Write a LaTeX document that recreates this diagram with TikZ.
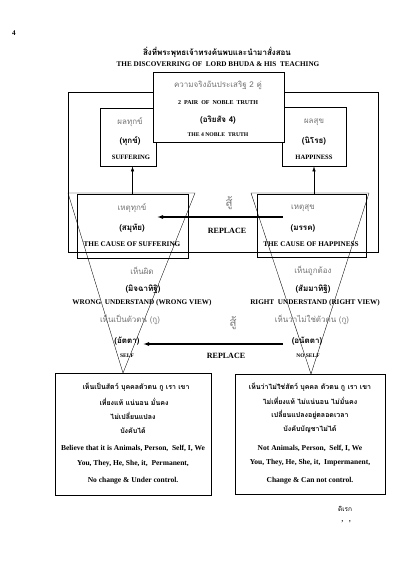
\documentclass[tikz,border=0pt]{standalone}
\usepackage{fontspec}
\setmainfont{Liberation Serif}
\newfontfamily\thai[Script=Thai]{Loma}
\usepackage{xcolor}
\usetikzlibrary{arrows.meta}

\tikzset{
  box/.style={draw,line width=0.7pt,inner sep=0pt},
  en/.style={font=\bfseries\fontsize{7.2}{8}\selectfont,inner sep=0pt},
  ensmall/.style={font=\bfseries\fontsize{6.6}{7}\selectfont,inner sep=0pt},
  enbox/.style={font=\bfseries\fontsize{7.5}{8}\selectfont,inner sep=0pt},
  th/.style={font=\thai\fontsize{8}{9}\selectfont,text=black!55,inner sep=0pt},
  thb/.style={font=\thai\bfseries\fontsize{8}{9}\selectfont,inner sep=0pt},
  thbox/.style={font=\thai\bfseries\fontsize{7}{8}\selectfont,inner sep=0pt},
  fight/.style={font=\thai\fontsize{12}{13}\selectfont,text=black!50,inner sep=0pt},
  cone/.style={line width=0.35pt},
  lead/.style={-{Latex[length=5pt,width=3.5pt]},line width=0.6pt},
  swap/.style={-{Latex[length=6pt,width=4pt]},line width=1.1pt}
}

\begin{document}
\begin{tikzpicture}[x=1pt,y=-1pt]
  \useasboundingbox[fill=white] (0,0) rectangle (407,569);

  % Page number and title
  \node[en] (page) at (14,33) {4};
  \node[thb] (titleth) at (217,52) {สิ่งที่พระพุทธเจ้าทรงค้นพบและนำมาสั่งสอน};
  \node[en] (titleen) at (218,64) {THE DISCOVERRING OF \ LORD BHUDA \& HIS \ TEACHING};

  % Define corners of the outer frame
  \coordinate (F1) at (68,92);
  \coordinate (F2) at (378,252);
  \draw[line width=0.7pt] (F1) rectangle (F2);

  % Define the two cones (cause -> view -> self)
  \coordinate (LA) at (68,193);
  \coordinate (LB) at (195,193);
  \coordinate (LT) at (123,373);
  \coordinate (RA) at (251,193);
  \coordinate (RB) at (369,193);
  \coordinate (RT) at (311,374);
  \draw[cone] (LA) -- (LB) -- (LT) -- cycle;
  \draw[cone] (RA) -- (RB) -- (RT) -- cycle;

  % Result boxes
  \node[box,minimum width=56pt,minimum height=58pt] (suf) at (128,137) {};
  \node[box,minimum width=64pt,minimum height=59pt] (hap) at (314,136.5) {};

  % Noble truth box on top of the frame
  \node[box,fill=white,minimum width=131pt,minimum height=70pt] (truth) at (218.5,107) {};
  \node[th] (truth1) at (218,85) {ความจริงอันประเสริฐ 2 คู่};
  \node[ensmall,font=\bfseries\fontsize{6}{7}\selectfont] (truth2) at (218,103) {2 \ PAIR \ OF \ NOBLE \ TRUTH};
  \node[thb] (truth3) at (218,120) {(อริยสัจ 4)};
  \node[ensmall,font=\bfseries\fontsize{5.7}{7}\selectfont] (truth4) at (218,135) {THE 4 NOBLE \ TRUTH};

  % Labels of the result boxes
  \node[th] (suf1) at (130,122) {ผลทุกข์};
  \node[thb] (suf2) at (130,141) {(ทุกข์)};
  \node[ensmall] (suf3) at (131,157) {SUFFERING};
  \node[th] (hap1) at (314,122) {ผลสุข};
  \node[thb] (hap2) at (314,141) {(นิโรธ)};
  \node[ensmall] (hap3) at (314,157) {HAPPINESS};

  % Cause boxes
  \node[box,minimum width=111pt,minimum height=64pt] (csuf) at (132.5,226) {};
  \node[box,minimum width=109pt,minimum height=63pt] (chap) at (311.5,225.5) {};
  \node[th] (csuf1) at (132,208) {เหตุทุกข์};
  \node[thb] (csuf2) at (132,228) {(สมุทัย)};
  \node[en] (csuf3) at (132,244) {THE CAUSE OF SUFFERING};
  \node[th] (chap1) at (303,208) {เหตุสุข};
  \node[thb] (chap2) at (303,228) {(มรรค)};
  \node[en] (chap3) at (311,244) {THE CAUSE OF HAPPINESS};

  % Cause leads to result
  \draw[lead] (csuf.north) -- (csuf.north |- suf.south);
  \draw[lead] (hap.south |- chap.north) -- (hap.south);

  % First replace arrow
  \coordinate (R1s) at (283,217);
  \coordinate (R1e) at (157,217);
  \draw[swap] (R1s) -- (R1e);
  \node[fight] (fight1) at (229,203) {สู้};
  \node[en,font=\bfseries\fontsize{8}{9}\selectfont] (rep1) at (227,231) {REPLACE};

  % Views
  \node[th] (wrong1) at (142,271) {เห็นผิด};
  \node[thb] (wrong2) at (143,289) {(มิจฉาทิฐิ)};
  \node[en] (wrong3) at (142,303) {WRONG \ UNDERSTAND (WRONG VIEW)};
  \node[th] (wrong4) at (130,320) {เห็นเป็นตัวตน (กู)};
  \node[thb] (self1) at (127,341) {(อัตตา)};
  \node[en,font=\bfseries\fontsize{5.5}{6}\selectfont] (self2) at (127,356) {SELF};
  \node[th] (right1) at (313,271) {เห็นถูกต้อง};
  \node[thb] (right2) at (313,289) {(สัมมาทิฐิ)};
  \node[en] (right3) at (315,303) {RIGHT \ UNDERSTAND (RIGHT VIEW)};
  \node[th] (right4) at (312,320) {เห็นว่าไม่ใช่ตัวตน (กู)};
  \node[thb] (nself1) at (307,341) {(อนัตตา)};
  \node[en,font=\bfseries\fontsize{5.5}{6}\selectfont] (nself2) at (308,356) {NO SELF};

  % Second replace arrow
  \coordinate (R2s) at (283,344);
  \coordinate (R2e) at (143,344);
  \draw[swap] (R2s) -- (R2e);
  \node[fight] (fight2) at (233,323) {สู้};
  \node[en,font=\bfseries\fontsize{8}{9}\selectfont] (rep2) at (226,356) {REPLACE};

  % Bottom boxes
  \node[box,minimum width=156pt,minimum height=122pt] (bself) at (133,434) {};
  \node[box,minimum width=150pt,minimum height=120pt] (bnself) at (310,434) {};
  \node[thbox] (bs1) at (136,387) {เห็นเป็นสัตว์ บุคคลตัวตน กู เรา เขา};
  \node[thbox] (bs2) at (134,402) {เที่ยงแท้ แน่นอน มั่นคง};
  \node[thbox] (bs3) at (133,416) {ไม่เปลี่ยนแปลง};
  \node[thbox] (bs4) at (133,431) {บังคับได้};
  \node[enbox] (bs5) at (133,448) {Believe that it is Animals, Person, \ Self, I, We};
  \node[enbox] (bs6) at (133,464) {You, They, He, She, it, \ Permanent,};
  \node[enbox] (bs7) at (133,481) {No change \& Under control.};
  \node[thbox] (bn1) at (310,387) {เห็นว่าไม่ใช่สัตว์ บุคคล ตัวตน กู เรา เขา};
  \node[thbox] (bn2) at (310,401) {ไม่เที่ยงแท้ ไม่แน่นอน ไม่มั่นคง};
  \node[thbox] (bn3) at (310,415) {เปลี่ยนแปลงอยู่ตลอดเวลา};
  \node[thbox] (bn4) at (310,429) {บังคับบัญชาไม่ได้};
  \node[enbox] (bn5) at (310,448) {Not Animals, Person, \ Self, I, We};
  \node[enbox] (bn6) at (310,463) {You, They, He, She, it, \ Impermanent,};
  \node[enbox] (bn7) at (310,481) {Change \& Can not control.};

  % Signature
  \node[thb,font=\thai\fontsize{6.5}{7}\selectfont] (sign) at (345,509) {ดิเรก};
  \node[en,font=\fontsize{9}{10}\selectfont] (marks) at (346,524) {' \ '};

\end{tikzpicture}
\end{document}
